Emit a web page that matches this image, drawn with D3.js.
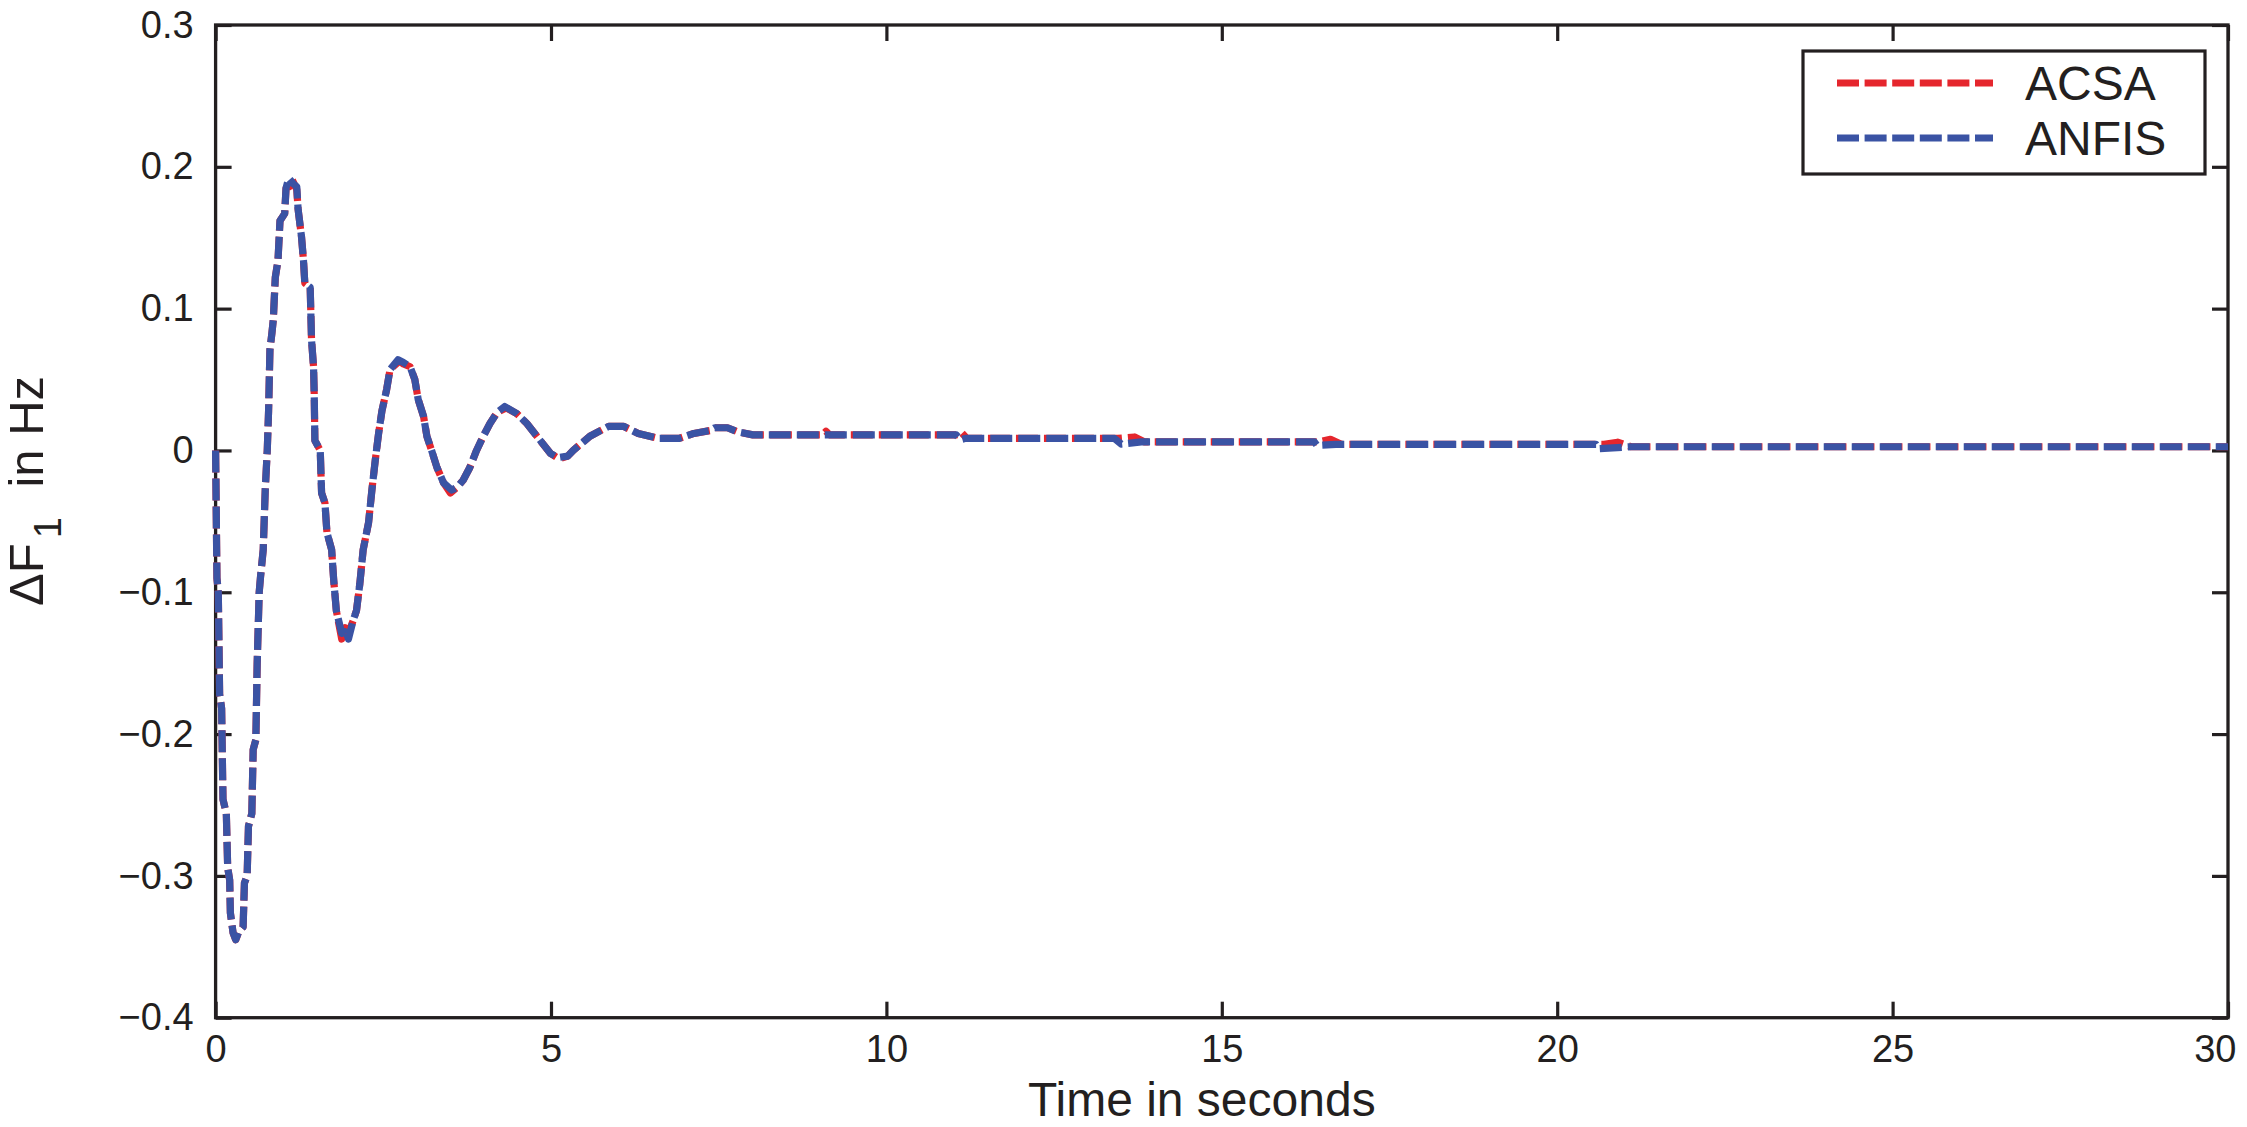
<!DOCTYPE html>
<html>
<head>
<meta charset="utf-8">
<script src="https://cdn.jsdelivr.net/npm/d3@7"></script>
<style>
  html, body { margin: 0; padding: 0; background: #ffffff; }
  svg { display: block; }
  text { font-family: "Liberation Sans", Arial, Helvetica, sans-serif; fill: #231f20; }
</style>
</head>
<body>
<svg id="chart" width="2247" height="1127"></svg>
<script>
// ---------------- data ----------------
const xTicks = [0, 5, 10, 15, 20, 25, 30];
const yTicks = [-0.4, -0.3, -0.2, -0.1, 0, 0.1, 0.2, 0.3];
const seriesNames = ["ACSA", "ANFIS"];
const seriesColors = ["#e5262d", "#3a53a4"];
const xLabel = "Time in seconds";

// [time (s), ΔF1 (Hz)]
const anfisSeries = [
  [0.00, 0.000], [0.02, -0.090], [0.04, -0.100], [0.06, -0.172], [0.09, -0.182],
  [0.10, -0.215], [0.11, -0.246], [0.16, -0.256], [0.18, -0.294], [0.21, -0.303],
  [0.22, -0.326], [0.26, -0.340], [0.30, -0.345], [0.34, -0.340], [0.41, -0.336],
  [0.43, -0.305], [0.47, -0.300], [0.49, -0.265], [0.54, -0.256], [0.56, -0.211],
  [0.60, -0.204], [0.62, -0.150], [0.65, -0.100], [0.67, -0.089], [0.71, -0.070],
  [0.74, -0.028], [0.77, 0.000], [0.79, 0.028], [0.81, 0.071], [0.84, 0.083],
  [0.86, 0.092], [0.89, 0.122], [0.93, 0.134], [0.96, 0.162], [1.03, 0.167],
  [1.05, 0.185], [1.09, 0.192], [1.16, 0.188], [1.21, 0.186], [1.23, 0.170],
  [1.28, 0.151], [1.31, 0.134], [1.33, 0.118], [1.41, 0.115], [1.43, 0.078],
  [1.46, 0.059], [1.47, 0.040], [1.48, 0.007], [1.56, 0.000], [1.58, -0.030],
  [1.63, -0.037], [1.66, -0.058], [1.73, -0.070], [1.76, -0.091], [1.80, -0.113],
  [1.88, -0.129], [1.93, -0.125], [1.98, -0.133], [2.05, -0.120], [2.10, -0.113],
  [2.15, -0.094], [2.20, -0.070], [2.28, -0.051], [2.33, -0.028], [2.38, -0.007],
  [2.43, 0.012], [2.48, 0.028], [2.55, 0.043], [2.60, 0.057], [2.72, 0.064],
  [2.80, 0.062], [2.90, 0.059], [2.97, 0.050], [3.02, 0.036], [3.10, 0.024],
  [3.15, 0.010], [3.22, 0.000], [3.30, -0.012], [3.40, -0.023], [3.52, -0.028],
  [3.60, -0.026], [3.69, -0.021], [3.79, -0.012], [3.89, 0.000], [3.99, 0.010],
  [4.09, 0.019], [4.20, 0.027], [4.31, 0.031], [4.49, 0.026], [4.64, 0.019],
  [4.79, 0.010], [4.99, -0.002], [5.10, -0.005], [5.25, -0.004], [5.33, 0.000],
  [5.58, 0.010], [5.86, 0.017], [6.08, 0.017], [6.30, 0.012], [6.60, 0.0085],
  [6.91, 0.0085], [7.13, 0.012], [7.37, 0.014], [7.44, 0.016], [7.63, 0.016],
  [7.79, 0.013], [8.01, 0.011], [11.04, 0.011], [11.10, 0.0075], [11.18, 0.0085],
  [13.40, 0.0085], [13.50, 0.0045], [13.80, 0.006], [16.38, 0.006], [16.42, 0.0035],
  [16.70, 0.0043], [20.58, 0.0043], [20.62, 0.0012], [21.10, 0.0026], [30.00, 0.0026]
];

const acsaSeries = [
  [0.00, 0.000], [0.02, -0.090], [0.04, -0.100], [0.06, -0.172], [0.09, -0.182],
  [0.10, -0.215], [0.11, -0.246], [0.16, -0.256], [0.18, -0.294], [0.21, -0.303],
  [0.22, -0.326], [0.26, -0.340], [0.30, -0.345], [0.34, -0.340], [0.41, -0.336],
  [0.43, -0.305], [0.47, -0.300], [0.49, -0.265], [0.54, -0.256], [0.56, -0.211],
  [0.60, -0.204], [0.62, -0.150], [0.65, -0.100], [0.67, -0.089], [0.71, -0.070],
  [0.74, -0.028], [0.77, 0.000], [0.79, 0.028], [0.81, 0.071], [0.84, 0.083],
  [0.86, 0.092], [0.89, 0.122], [0.93, 0.134], [0.96, 0.162], [1.03, 0.167],
  [1.05, 0.185], [1.10, 0.186], [1.14, 0.191], [1.21, 0.184], [1.23, 0.170],
  [1.28, 0.151], [1.31, 0.134], [1.33, 0.118], [1.41, 0.115], [1.43, 0.078],
  [1.46, 0.059], [1.47, 0.040], [1.48, 0.007], [1.56, 0.000], [1.58, -0.030],
  [1.63, -0.037], [1.66, -0.058], [1.73, -0.070], [1.76, -0.091], [1.80, -0.113],
  [1.88, -0.133], [1.93, -0.125], [1.98, -0.129], [2.05, -0.120], [2.10, -0.113],
  [2.15, -0.094], [2.20, -0.070], [2.28, -0.051], [2.33, -0.028], [2.38, -0.007],
  [2.43, 0.012], [2.48, 0.028], [2.55, 0.043], [2.60, 0.057], [2.74, 0.063],
  [2.80, 0.061], [2.90, 0.059], [2.97, 0.050], [3.02, 0.036], [3.10, 0.024],
  [3.15, 0.010], [3.22, 0.000], [3.30, -0.012], [3.40, -0.023], [3.50, -0.030],
  [3.60, -0.026], [3.69, -0.021], [3.79, -0.012], [3.89, 0.000], [3.99, 0.010],
  [4.09, 0.019], [4.20, 0.027], [4.33, 0.030], [4.49, 0.026], [4.64, 0.019],
  [4.79, 0.010], [4.99, -0.002], [5.12, -0.006], [5.25, -0.004], [5.33, 0.000],
  [5.58, 0.010], [5.86, 0.017], [6.08, 0.017], [6.30, 0.012], [6.60, 0.0085],
  [6.91, 0.0085], [7.13, 0.012], [7.37, 0.014], [7.44, 0.016], [7.63, 0.016],
  [7.79, 0.013], [8.01, 0.011], [9.05, 0.011], [9.10, 0.0135], [9.15, 0.011],
  [11.04, 0.011], [11.12, 0.0125], [11.20, 0.0085], [13.45, 0.0085], [13.70, 0.0095],
  [13.85, 0.006], [16.45, 0.006], [16.62, 0.0078], [16.78, 0.0043], [20.70, 0.0043],
  [20.90, 0.0058], [21.10, 0.0026], [30.00, 0.0026]
];

// ---------------- layout ----------------
const W = 2247, H = 1127;
const plot = { left: 215.6, top: 25, right: 2228, bottom: 1017.7 };
const ink = "#231f20";
const lineW = 7.2;

const svg = d3.select("#chart");
const x = d3.scaleLinear().domain([0, 30]).range([plot.left, plot.right]);
const y = d3.scaleLinear().domain([-0.4, 0.3]).range([plot.bottom, plot.top]);

const tickLen = 16;
const tickFont = 38;
const yFmt = d => d === 0 ? "0" : d3.format(".1f")(d);

// bottom axis
const gx = svg.append("g").attr("transform", `translate(0,${plot.bottom})`)
  .call(d3.axisBottom(x).tickValues(xTicks).tickFormat(d3.format("d"))
    .tickSizeInner(-tickLen).tickSizeOuter(0).tickPadding(17));
// top axis (ticks only)
const gxt = svg.append("g").attr("transform", `translate(0,${plot.top})`)
  .call(d3.axisTop(x).tickValues(xTicks).tickFormat("")
    .tickSizeInner(-tickLen).tickSizeOuter(0));
// left axis
const gy = svg.append("g").attr("transform", `translate(${plot.left},0)`)
  .call(d3.axisLeft(y).tickValues(yTicks).tickFormat(yFmt)
    .tickSizeInner(-tickLen).tickSizeOuter(0).tickPadding(22));
// right axis (ticks only)
const gyr = svg.append("g").attr("transform", `translate(${plot.right},0)`)
  .call(d3.axisRight(y).tickValues(yTicks).tickFormat("")
    .tickSizeInner(-tickLen).tickSizeOuter(0));

[gx, gxt, gy, gyr].forEach(g => {
  g.select(".domain").remove();
  g.selectAll(".tick line").attr("stroke", ink).attr("stroke-width", 3.2);
  g.selectAll(".tick text").attr("font-size", tickFont)
    .attr("font-family", '"Liberation Sans", Arial, Helvetica, sans-serif')
    .attr("fill", ink);
});
// keep the last x tick label inside the picture
gx.selectAll(".tick text").filter(d => d === 30)
  .attr("text-anchor", "end").attr("x", 2236 - plot.right);

// box
svg.append("rect")
  .attr("x", plot.left).attr("y", plot.top)
  .attr("width", plot.right - plot.left).attr("height", plot.bottom - plot.top)
  .attr("fill", "none").attr("stroke", ink).attr("stroke-width", 3.3);

// x label
svg.append("text")
  .attr("x", (plot.left + plot.right) / 2 - 20)
  .attr("y", 1116)
  .attr("text-anchor", "middle")
  .attr("font-size", 48)
  .text(xLabel);

// y label: ΔF1 in Hz (subscript 1)
const yl = svg.append("text")
  .attr("transform", "translate(43,491) rotate(-90)")
  .attr("text-anchor", "middle")
  .attr("font-size", 49);
yl.append("tspan").text("\u0394F");
yl.append("tspan").attr("font-size", 38).attr("dy", 18).attr("dx", 5).text("1");
yl.append("tspan").attr("dy", -18).attr("dx", 16).text(" in Hz");

// lines
const line = d3.line().x(d => x(d[0])).y(d => y(d[1]));
const allSeries = [acsaSeries, anfisSeries];
allSeries.forEach((s, i) => {
  svg.append("path")
    .datum(s)
    .attr("d", line)
    .attr("fill", "none")
    .attr("stroke", seriesColors[i])
    .attr("stroke-width", lineW)
    .attr("stroke-dasharray", "22,6")
    .attr("stroke-linejoin", "round")
    .attr("stroke-linecap", "butt");
});

// legend
const lg = { x0: 1803, y0: 51, x1: 2205, y1: 174 };
svg.append("rect")
  .attr("x", lg.x0).attr("y", lg.y0)
  .attr("width", lg.x1 - lg.x0).attr("height", lg.y1 - lg.y0)
  .attr("fill", "#ffffff").attr("stroke", ink).attr("stroke-width", 3.2);
const legendRows = [83, 138];
seriesNames.forEach((name, i) => {
  svg.append("line")
    .attr("x1", 1837).attr("x2", 1993)
    .attr("y1", legendRows[i]).attr("y2", legendRows[i])
    .attr("stroke", seriesColors[i]).attr("stroke-width", lineW)
    .attr("stroke-dasharray", "22,5.6");
  svg.append("text")
    .attr("x", 2025).attr("y", legendRows[i])
    .attr("dy", "0.36em")
    .attr("font-size", 48)
    .text(name);
});
</script>
</body>
</html>
